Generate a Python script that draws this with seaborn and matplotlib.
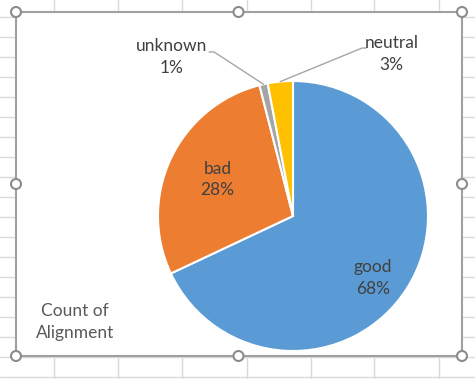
import numpy as np
import matplotlib
matplotlib.use("Agg")
import matplotlib.pyplot as plt
import seaborn as sns
from matplotlib.patches import Rectangle, Circle

categories = ["good", "bad", "unknown", "neutral"]
shares = [68, 28, 1, 3]
colors = ["#5B9BD5", "#ED7D31", "#A5A5A5", "#FFC000"]
title_text = "Count of\nAlignment"

sns.set_style("white")
plt.rcParams["font.family"] = ["Lato", "DejaVu Sans"]

W, H = 475, 379
fig = plt.figure(figsize=(W / 100, H / 100), dpi=100)

# spreadsheet background (pixel coordinates, y downwards)
bg = fig.add_axes([0, 0, 1, 1])
bg.set_xlim(0, W)
bg.set_ylim(H, 0)
bg.axis("off")
for x in [54, 118, 182, 247, 311, 374, 439]:
    bg.axvline(x, color="#DADADA", lw=1)
for y in range(17, H, 20):
    bg.axhline(y, color="#DADADA", lw=1)

# chart area
L, T, R, B = 16, 12, 462, 356
bg.add_patch(Rectangle((L, T), R - L, B - T, facecolor="white", edgecolor="#A0A0A0", lw=1.5, zorder=3))
mx, my = (L + R) / 2 - 0.5, (T + B) / 2
for hx, hy in [(L, T), (mx, T), (R, T), (L, my), (R, my), (L, B), (mx, B), (R, B)]:
    bg.add_patch(Circle((hx, hy), 5, facecolor="white", edgecolor="#8C8C8C", lw=1.5, zorder=5))

bg.text(75, 322, title_text, ha="center", va="center", fontsize=12.5,
        color="#595959", linespacing=1.45, zorder=6)

# pie
cx, cy, r = 293, 216, 135
ax = fig.add_axes([(cx - r) / W, (H - cy - r) / H, 2 * r / W, 2 * r / H])
wedges, _ = ax.pie(shares, colors=colors, startangle=90, counterclock=False,
                   radius=1, wedgeprops=dict(edgecolor="white", linewidth=1.5))
ax.set_xlim(-1, 1)
ax.set_ylim(-1, 1)
ax.set_aspect("equal")
ax.set_zorder(4)

label_pos = {"good": (0.59, -0.46), "bad": (-0.56, 0.27),
             "unknown": (-0.90, 1.18), "neutral": (0.73, 1.20)}
for cat, val, w in zip(categories, shares, wedges):
    lx, ly = label_pos[cat]
    ax.text(lx, ly, f"{cat}\n{val}%", ha="center", va="center", fontsize=12.5,
            color="#404040", linespacing=1.45)
    if cat in ("unknown", "neutral"):
        mid = np.deg2rad((w.theta1 + w.theta2) / 2)
        ex, ey = np.cos(mid), np.sin(mid)
        if cat == "unknown":
            xs, ys = [-0.622, -0.585, ex], [1.215, 1.215, ey]
        else:
            xs, ys = [ex, 0.511, 0.541], [ey, 1.244, 1.244]
        ax.plot(xs, ys, color="#A6A6A6", lw=1, clip_on=False)

fig.savefig("out.png", dpi=100)
